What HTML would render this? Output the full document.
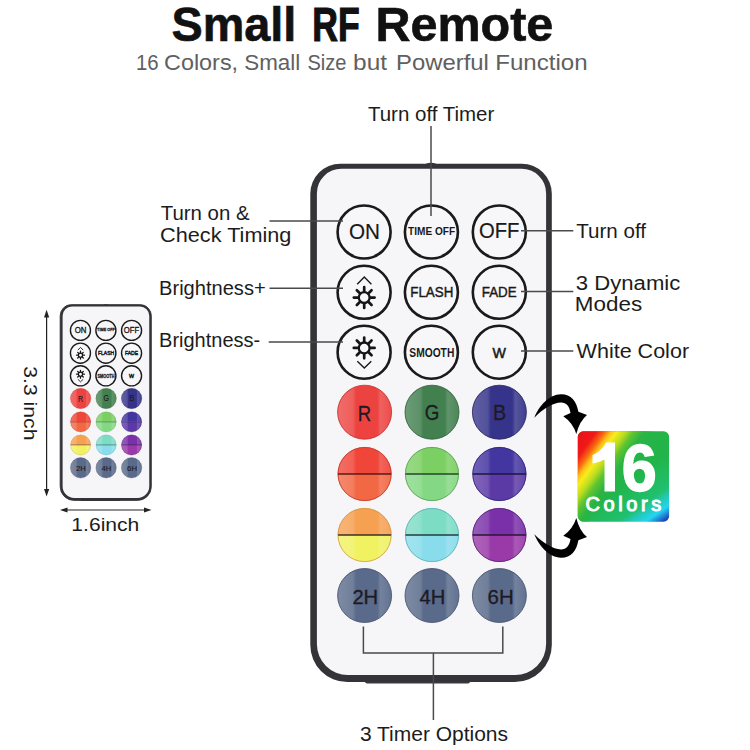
<!DOCTYPE html>
<html><head><meta charset="utf-8"><title>Small RF Remote</title>
<style>
html,body{margin:0;padding:0;background:#fff;}
body{width:750px;height:750px;overflow:hidden;font-family:"Liberation Sans",sans-serif;}
svg{display:block;}
</style></head>
<body>
<svg width="750" height="750" viewBox="0 0 750 750" font-family="Liberation Sans, sans-serif">
<defs>
  <linearGradient id="rainbow" x1="0" y1="0" x2="0.79" y2="1.145">
    <stop offset="0" stop-color="#2ab444"/>
    <stop offset="0.55" stop-color="#22b44a"/>
    <stop offset="0.77" stop-color="#20c070"/>
    <stop offset="0.826" stop-color="#22cab8"/>
    <stop offset="0.893" stop-color="#22d6ee"/>
    <stop offset="0.97" stop-color="#2048c0"/>
    <stop offset="1" stop-color="#2234b0"/>
  </linearGradient>
  <linearGradient id="rainbow2" x1="0" y1="0" x2="1.135" y2="0.811">
    <stop offset="0" stop-color="#e81018"/>
    <stop offset="0.12" stop-color="#f01a18"/>
    <stop offset="0.175" stop-color="#f86a10"/>
    <stop offset="0.215" stop-color="#fcc418"/>
    <stop offset="0.25" stop-color="#f8ec1c"/>
    <stop offset="0.31" stop-color="#b8dc20"/>
    <stop offset="0.36" stop-color="#60c430"/>
    <stop offset="0.43" stop-color="#2ab444"/>
    <stop offset="0.5" stop-color="#2ab444" stop-opacity="0"/>
    <stop offset="1" stop-color="#2ab444" stop-opacity="0"/>
  </linearGradient>
  <linearGradient id="gloss" x1="0" y1="0" x2="1" y2="0">
    <stop offset="0" stop-color="#fff" stop-opacity="0.22"/>
    <stop offset="0.28" stop-color="#fff" stop-opacity="0.14"/>
    <stop offset="0.34" stop-color="#fff" stop-opacity="0"/>
    <stop offset="0.74" stop-color="#fff" stop-opacity="0"/>
    <stop offset="0.8" stop-color="#fff" stop-opacity="0.16"/>
    <stop offset="1" stop-color="#fff" stop-opacity="0.06"/>
  </linearGradient>
  <g id="remote">
<rect x="55" y="516" width="105" height="4" rx="2" fill="#3a3a3e"/>
<ellipse cx="121" cy="1.6" rx="6.2" ry="2.4" fill="#333338"/>
<path d="M30.3,0.2 L211.8,0.2 A30,30 0 0 1 241.8,30.2 L241.8,481.5 A37,37 0 0 1 204.8,518.5 L37.3,518.5 A37,37 0 0 1 0.3,481.5 L0.3,30.2 A30,30 0 0 1 30.3,0.2 Z" fill="#333338" stroke="#333338" style="stroke-width:var(--bw,0)"/>
<path d="M31.4,5.2 L211.6,5.2 A24.5,24.5 0 0 1 236.1,29.7 L236.1,480.6 A31,31 0 0 1 205.1,511.6 L37.9,511.6 A31,31 0 0 1 6.9,480.6 L6.9,29.7 A24.5,24.5 0 0 1 31.4,5.2 Z" fill="#f6f6f8"/>
<g fill="#f7f7f9" stroke="#1a1a1a" style="stroke-width:var(--ow,2.6)">
<circle cx="54.1" cy="68.5" r="26.5"/>
<circle cx="121.4" cy="68.5" r="26.5"/>
<circle cx="189.3" cy="68.5" r="26.5"/>
<circle cx="54.1" cy="128.8" r="26.5"/>
<circle cx="121.4" cy="128.8" r="26.5"/>
<circle cx="189.3" cy="128.8" r="26.5"/>
<circle cx="54.1" cy="188.7" r="26.5"/>
<circle cx="121.4" cy="188.7" r="26.5"/>
<circle cx="189.3" cy="188.7" r="26.5"/>
</g>
<circle cx="54.2" cy="134.1" r="5.4" fill="none" stroke="#151515" style="stroke-width:var(--ss,2.3)"/><path d="M60.40,134.10L64.60,134.10M58.58,138.48L61.55,141.45M54.20,140.30L54.20,144.50M49.82,138.48L46.85,141.45M48.00,134.10L43.80,134.10M49.82,129.72L46.85,126.75M54.20,127.90L54.20,123.70M58.58,129.72L61.55,126.75" stroke="#151515" style="stroke-width:var(--sr,2.7)" stroke-linecap="round" fill="none"/>
<path d="M47.2,120.8 L54.3,113.5 L61.4,120.8" fill="none" stroke="#1a1a1a" style="stroke-width:var(--cs,1.4)"/>
<circle cx="54.2" cy="184.4" r="5.4" fill="none" stroke="#151515" style="stroke-width:var(--ss,2.3)"/><path d="M60.40,184.40L64.60,184.40M58.58,188.78L61.55,191.75M54.20,190.60L54.20,194.80M49.82,188.78L46.85,191.75M48.00,184.40L43.80,184.40M49.82,180.02L46.85,177.05M54.20,178.20L54.20,174.00M58.58,180.02L61.55,177.05" stroke="#151515" style="stroke-width:var(--sr,2.7)" stroke-linecap="round" fill="none"/>
<path d="M47.3,197.8 L54.3,204.5 L61.3,197.8" fill="none" stroke="#1a1a1a" style="stroke-width:var(--cs,1.4)"/>
<g fill="#1a1a1a" stroke="#1a1a1a" style="stroke-width:var(--ts,0px)">
<text x="54.5" y="75.3" font-size="22.5" text-anchor="middle" textLength="31" lengthAdjust="spacingAndGlyphs" style="stroke-width:calc(0.2px + var(--ts,0px))">ON</text>
<text x="121.6" y="71.2" font-size="11" font-weight="bold" text-anchor="middle" textLength="47" lengthAdjust="spacingAndGlyphs">TIME OFF</text>
<text x="189.2" y="74.5" font-size="22.5" text-anchor="middle" textLength="40.5" lengthAdjust="spacingAndGlyphs" style="stroke-width:calc(0.2px + var(--ts,0px))">OFF</text>
<text x="121.8" y="133.9" font-size="15.4" text-anchor="middle" textLength="43" lengthAdjust="spacingAndGlyphs" style="stroke-width:calc(0.45px + var(--ts,0px))">FLASH</text>
<text x="189.2" y="133.9" font-size="15.4" text-anchor="middle" textLength="35" lengthAdjust="spacingAndGlyphs" style="stroke-width:calc(0.45px + var(--ts,0px))">FADE</text>
<text x="121.8" y="193.2" font-size="12" font-weight="bold" text-anchor="middle" textLength="45" lengthAdjust="spacingAndGlyphs">SMOOTH</text>
<text x="189.3" y="194" font-size="14.9" text-anchor="middle" textLength="13.4" lengthAdjust="spacingAndGlyphs" style="stroke-width:calc(0.55px + var(--ts,0px))">W</text>
</g>
<circle cx="54.6" cy="248.7" r="27" fill="#ec4340" stroke="#c02e2c" stroke-width="0.8"/>
<circle cx="54.6" cy="248.7" r="26.5" fill="url(#gloss)"/>
<circle cx="122.0" cy="248.7" r="27" fill="#42804f" stroke="#2e5e3a" stroke-width="0.8"/>
<circle cx="122.0" cy="248.7" r="26.5" fill="url(#gloss)"/>
<circle cx="189.4" cy="248.7" r="27" fill="#35348a" stroke="#24235e" stroke-width="0.8"/>
<circle cx="189.4" cy="248.7" r="26.5" fill="url(#gloss)"/>
<circle cx="54.6" cy="432" r="27" fill="#596a8a" stroke="#414e68" stroke-width="0.8"/>
<circle cx="54.6" cy="432" r="26.5" fill="url(#gloss)"/>
<circle cx="122.0" cy="432" r="27" fill="#596a8a" stroke="#414e68" stroke-width="0.8"/>
<circle cx="122.0" cy="432" r="26.5" fill="url(#gloss)"/>
<circle cx="189.4" cy="432" r="27" fill="#596a8a" stroke="#414e68" stroke-width="0.8"/>
<circle cx="189.4" cy="432" r="26.5" fill="url(#gloss)"/>
<path d="M27.6,310.5 A27,27 0 0 1 81.6,310.5 Z" fill="#f0463a"/>
<path d="M27.6,310.5 A27,27 0 0 0 81.6,310.5 Z" fill="#f26844"/>
<circle cx="54.6" cy="310.5" r="26.6" fill="url(#gloss)" stroke="#c43a2c" stroke-width="0.8"/>
<line x1="28.1" y1="310.5" x2="81.1" y2="310.5" stroke="#5a1a14" stroke-width="1.3"/>
<path d="M95.0,310.5 A27,27 0 0 1 149.0,310.5 Z" fill="#7ccf62"/>
<path d="M95.0,310.5 A27,27 0 0 0 149.0,310.5 Z" fill="#84d884"/>
<circle cx="122.0" cy="310.5" r="26.6" fill="url(#gloss)" stroke="#5aa05a" stroke-width="0.8"/>
<line x1="95.5" y1="310.5" x2="148.5" y2="310.5" stroke="#24462a" stroke-width="1.3"/>
<path d="M162.4,310.5 A27,27 0 0 1 216.4,310.5 Z" fill="#4436a0"/>
<path d="M162.4,310.5 A27,27 0 0 0 216.4,310.5 Z" fill="#5c3aa6"/>
<circle cx="189.4" cy="310.5" r="26.6" fill="url(#gloss)" stroke="#30267a" stroke-width="0.8"/>
<line x1="162.9" y1="310.5" x2="215.9" y2="310.5" stroke="#1e1640" stroke-width="1.3"/>
<path d="M27.6,371.5 A27,27 0 0 1 81.6,371.5 Z" fill="#f6a052"/>
<path d="M27.6,371.5 A27,27 0 0 0 81.6,371.5 Z" fill="#f0f262"/>
<circle cx="54.6" cy="371.5" r="26.6" fill="url(#gloss)" stroke="#d09a48" stroke-width="0.8"/>
<line x1="28.1" y1="371.5" x2="81.1" y2="371.5" stroke="#3a3020" stroke-width="1.3"/>
<path d="M95.0,371.5 A27,27 0 0 1 149.0,371.5 Z" fill="#7cdcc4"/>
<path d="M95.0,371.5 A27,27 0 0 0 149.0,371.5 Z" fill="#88dcec"/>
<circle cx="122.0" cy="371.5" r="26.6" fill="url(#gloss)" stroke="#5cb0b8" stroke-width="0.8"/>
<line x1="95.5" y1="371.5" x2="148.5" y2="371.5" stroke="#223c40" stroke-width="1.3"/>
<path d="M162.4,371.5 A27,27 0 0 1 216.4,371.5 Z" fill="#7a30a8"/>
<path d="M162.4,371.5 A27,27 0 0 0 216.4,371.5 Z" fill="#9a3aa8"/>
<circle cx="189.4" cy="371.5" r="26.6" fill="url(#gloss)" stroke="#562478" stroke-width="0.8"/>
<line x1="162.9" y1="371.5" x2="215.9" y2="371.5" stroke="#281636" stroke-width="1.3"/>
<g fill="#1e1a22" font-size="22.3" stroke="#1e1a22" stroke-width="0.3">
<text x="54.4" y="257" text-anchor="middle" textLength="13.4" lengthAdjust="spacingAndGlyphs">R</text>
<text x="122.1" y="256.6" text-anchor="middle" textLength="14.6" lengthAdjust="spacingAndGlyphs">G</text>
<text x="189.5" y="256.4" text-anchor="middle" textLength="13.2" lengthAdjust="spacingAndGlyphs">B</text>
<text x="55.3" y="440.1" font-size="19.5" text-anchor="middle" textLength="25.8" lengthAdjust="spacingAndGlyphs">2H</text>
<text x="122.5" y="440.1" font-size="19.5" text-anchor="middle" textLength="25.8" lengthAdjust="spacingAndGlyphs">4H</text>
<text x="190.7" y="440.1" font-size="19.5" text-anchor="middle" textLength="26.2" lengthAdjust="spacingAndGlyphs">6H</text>
</g>
  </g>
</defs>
<use href="#remote" x="310" y="163.5"/>
<use href="#remote" transform="translate(60,304.5) scale(0.378)" style="--bw:2;--ow:3.7;--ts:0.7px;--ss:3;--sr:3.4;--cs:2.4"/>
<g stroke="#4a4a4a" stroke-width="1.5" fill="none">
  <line x1="269.5" y1="221" x2="343" y2="221"/>
  <line x1="269.5" y1="288.2" x2="343" y2="288.2"/>
  <line x1="268.7" y1="342" x2="343" y2="342"/>
  <line x1="431" y1="126" x2="431" y2="216"/>
  <line x1="521" y1="230.7" x2="573.3" y2="230.7"/>
  <line x1="521" y1="291.4" x2="573.3" y2="291.4"/>
  <line x1="521" y1="351" x2="573.3" y2="351"/>
  <polyline points="363.4,626.4 363.4,653 502.8,653 502.8,626.4"/>
  <line x1="433.4" y1="653" x2="433.4" y2="720"/>
</g>
<text x="171.45" y="41.0" font-size="47.6" font-weight="bold" fill="#111" textLength="124.86" lengthAdjust="spacingAndGlyphs" stroke="#111" stroke-width="0.6">Small</text>
<text x="312.32" y="40.9" font-size="47.2" font-weight="bold" fill="#111" textLength="47.38" lengthAdjust="spacingAndGlyphs" stroke="#111" stroke-width="1.2">RF</text>
<text x="375.45" y="41.0" font-size="47.6" font-weight="bold" fill="#111" textLength="177.90" lengthAdjust="spacingAndGlyphs" stroke="#111" stroke-width="0.6">Remote</text>
<text x="135.95" y="70" font-size="21.8" fill="#606060" textLength="22.65" lengthAdjust="spacingAndGlyphs">16</text>
<text x="164.01" y="70" font-size="21.8" fill="#606060" textLength="74.09" lengthAdjust="spacingAndGlyphs">Colors,</text>
<text x="244.28" y="70" font-size="21.8" fill="#606060" textLength="56.02" lengthAdjust="spacingAndGlyphs">Small</text>
<text x="307.49" y="70" font-size="21.8" fill="#606060" textLength="39.00" lengthAdjust="spacingAndGlyphs">Size</text>
<text x="353.13" y="70" font-size="21.8" fill="#606060" textLength="33.95" lengthAdjust="spacingAndGlyphs">but</text>
<text x="396.04" y="70" font-size="21.8" fill="#606060" textLength="92.85" lengthAdjust="spacingAndGlyphs">Powerful</text>
<text x="495.23" y="70" font-size="21.8" fill="#606060" textLength="92.34" lengthAdjust="spacingAndGlyphs">Function</text>
<text x="367.94" y="120.9" font-size="19.5" fill="#1c1c1c" textLength="126.40" lengthAdjust="spacingAndGlyphs">Turn off Timer</text>
<text x="160.74" y="220.3" font-size="19.5" fill="#1c1c1c" textLength="88.78" lengthAdjust="spacingAndGlyphs">Turn on &amp;</text>
<text x="160.10" y="241.7" font-size="19.5" fill="#1c1c1c" textLength="131.30" lengthAdjust="spacingAndGlyphs">Check Timing</text>
<text x="159.05" y="295.3" font-size="19.5" fill="#1c1c1c" textLength="106.64" lengthAdjust="spacingAndGlyphs">Brightness+</text>
<text x="159.06" y="347.3" font-size="19.5" fill="#1c1c1c" textLength="101.13" lengthAdjust="spacingAndGlyphs">Brightness-</text>
<text x="576.24" y="238.4" font-size="19.5" fill="#1c1c1c" textLength="69.73" lengthAdjust="spacingAndGlyphs">Turn off</text>
<text x="575.86" y="290" font-size="19.5" fill="#1c1c1c" textLength="104.42" lengthAdjust="spacingAndGlyphs">3 Dynamic</text>
<text x="574.86" y="311.3" font-size="19.5" fill="#1c1c1c" textLength="67.25" lengthAdjust="spacingAndGlyphs">Modes</text>
<text x="576.61" y="358.3" font-size="19.5" fill="#1c1c1c" textLength="112.45" lengthAdjust="spacingAndGlyphs">White Color</text>
<text x="359.90" y="740.8" font-size="19.5" fill="#1c1c1c" textLength="148.16" lengthAdjust="spacingAndGlyphs">3 Timer Options</text>
<text x="71.39" y="531" font-size="18" fill="#1c1c1c" textLength="67.97" lengthAdjust="spacingAndGlyphs">1.6inch</text>
<text transform="translate(24.2,366.2) rotate(90)" x="0" y="0" font-size="17.5" fill="#1c1c1c" textLength="74.3" lengthAdjust="spacingAndGlyphs">3.3 inch</text>
<g stroke="#222" stroke-width="1.2">
  <line x1="46.6" y1="315" x2="46.6" y2="491"/>
  <line x1="66" y1="510" x2="145" y2="510"/>
</g>
<g fill="#222">
  <polygon points="46.6,309.8 44,317.5 49.2,317.5"/>
  <polygon points="46.6,496.5 44,489 49.2,489"/>
  <polygon points="60,510 67.5,507.4 67.5,512.6"/>
  <polygon points="151.5,510 144,507.4 144,512.6"/>
</g>
<rect x="577.8" y="431.3" width="91.3" height="90.4" rx="5.5" fill="url(#rainbow)"/>
<rect x="577.8" y="431.3" width="91.3" height="90.4" rx="5.5" fill="url(#rainbow2)"/>
<path d="M606,442.5 L615,442.5 L615,491.5 L604.5,491.5 L604.5,459.5 C601,461.5 597,462.8 592.5,463.5 L592.5,455 C598,453 603,448.5 606,442.5 Z" fill="#fff"/>
<text x="621.75" y="491.15" font-size="67" font-weight="bold" fill="#fff" textLength="34.97" lengthAdjust="spacingAndGlyphs" stroke="#fff" stroke-width="1.5">6</text>
<text x="585.48" y="511.3" font-size="20" fill="#fff" stroke="#fff" stroke-width="1.0" letter-spacing="3.59">Colors</text>
<path id="arr" fill="#000" d="M534.3,417.7 C539,406 549,394.5 561,394.3 C571,394.2 576.5,401 578.4,411.8 L587,414.9 Q579.5,421 576.3,434 Q573,423 563.3,416.3 L570.5,413 C569.5,406 566,402.5 561,402.6 C553,402.8 543,409 534.3,417.7 Z"/>
<use href="#arr" transform="translate(0,952) scale(1,-1)"/>
</svg>
</body></html>
